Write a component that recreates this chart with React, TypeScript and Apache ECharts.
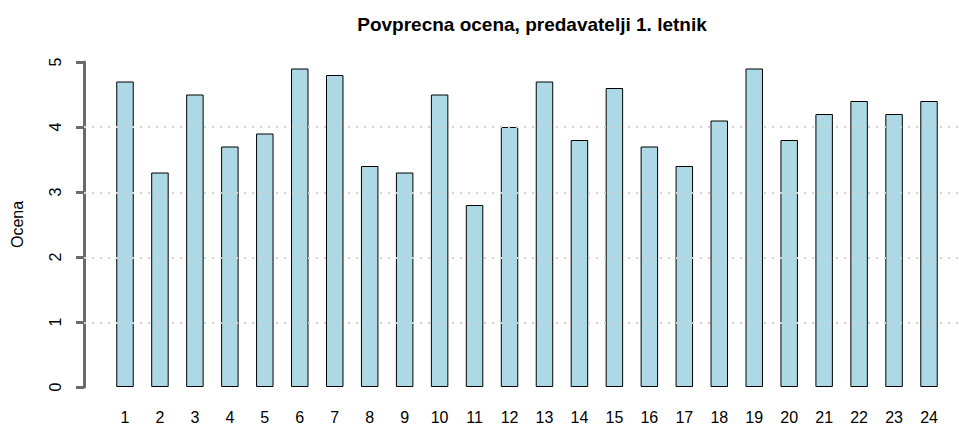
import React, { useEffect, useRef } from "react";
import * as echarts from "echarts";

const categories = ["1","2","3","4","5","6","7","8","9","10","11","12","13","14","15","16","17","18","19","20","21","22","23","24"];
const values = [4.7, 3.3, 4.5, 3.7, 3.9, 4.9, 4.8, 3.4, 3.3, 4.5, 2.8, 4.0, 4.7, 3.8, 4.6, 3.7, 3.4, 4.1, 4.9, 3.8, 4.2, 4.4, 4.2, 4.4];
const titleText = "Povprecna ocena, predavatelji 1. letnik";
const yName = "Ocena";

export default function App() {
  const ref = useRef<HTMLDivElement>(null);
  useEffect(() => {
    if (!ref.current) return;
    const chart = echarts.init(ref.current, null, { renderer: "svg" });
    const font = "Liberation Sans, Arial, sans-serif";
    chart.setOption({
      animation: false,
      backgroundColor: "#ffffff",
      textStyle: { fontFamily: font },
      title: {
        text: titleText,
        left: 527,
        textAlign: "center",
        top: 10,
        textStyle: { fontSize: 19, fontWeight: "bold", color: "#000", fontFamily: font },
      },
      grid: [
        { left: 84, right: 0, top: 62, bottom: 37 },
        { left: 107.5, right: 12.5, top: 62, bottom: 37 },
      ],
      xAxis: [
        { gridIndex: 0, type: "value", min: 0, max: 1, show: false },
        {
          gridIndex: 1,
          type: "category",
          data: categories,
          axisLine: { show: false },
          axisTick: { show: false },
          axisLabel: { color: "#000", fontSize: 16, margin: 22, interval: 0, fontFamily: font },
        },
      ],
      yAxis: [
        {
          gridIndex: 0,
          type: "value",
          min: 0,
          max: 5,
          interval: 1,
          z: 5,
          axisLine: { show: false },
          axisTick: { show: false },
          axisLabel: { show: false },
          splitLine: {
            show: true,
            showMinLine: false,
            showMaxLine: false,
            lineStyle: { color: "#d3d3d3", type: [2, 6], width: 2 },
          },
        },
        {
          gridIndex: 1,
          type: "value",
          position: "left",
          min: 0,
          max: 5,
          interval: 1,
          offset: 23.5,
          name: yName,
          nameLocation: "middle",
          nameGap: 58.5,
          nameRotate: 90,
          nameTextStyle: { color: "#000", fontSize: 16, fontFamily: font },
          axisLine: { show: true, onZero: false, lineStyle: { color: "#6a6a6a", width: 3, type: "solid", opacity: 1 } },
          axisTick: { show: true, inside: false, length: 8, lineStyle: { color: "#6a6a6a", width: 3, type: "solid", opacity: 1 } },
          axisLabel: { color: "#000", fontSize: 16, rotate: 90, margin: 21, fontFamily: font },
          splitLine: { show: false },
        },
      ],
      series: [
        {
          type: "bar",
          xAxisIndex: 1,
          yAxisIndex: 1,
          data: values,
          barWidth: "50%",
          z: 2,
          itemStyle: { color: "#ADD8E6", borderColor: "#000", borderWidth: 1 },
        },
      ],
    });
    return () => chart.dispose();
  }, []);
  return <div ref={ref} style={{ width: 959, height: 425, position: "absolute", left: 0, top: 0 }} />;
}
